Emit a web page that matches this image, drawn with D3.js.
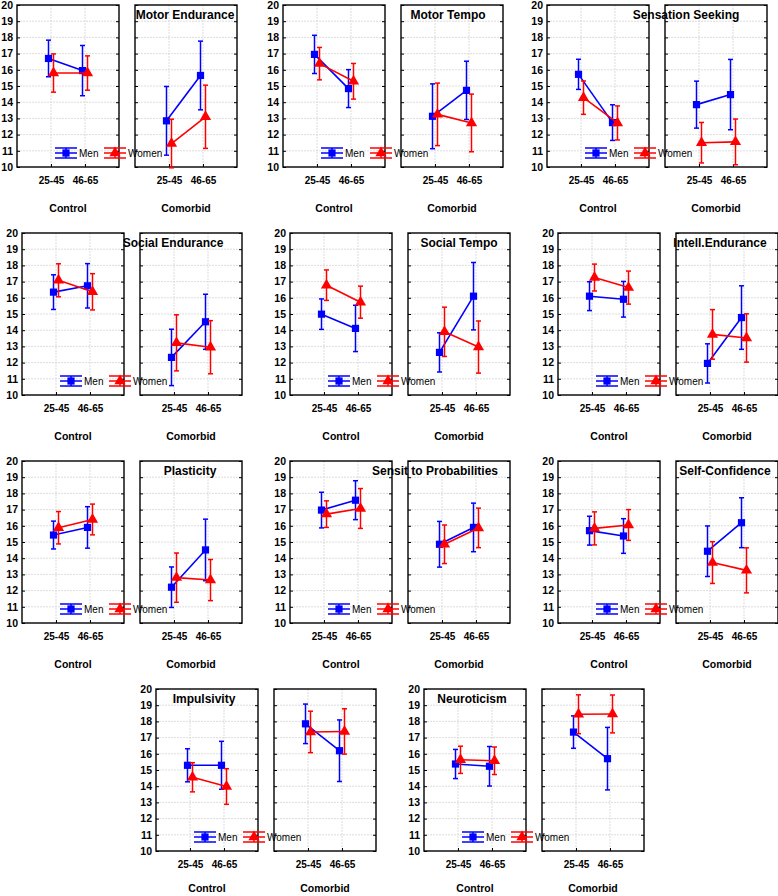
<!DOCTYPE html>
<html>
<head>
<meta charset="utf-8">
<script src="https://cdn.jsdelivr.net/npm/d3@7"></script>
<style>
  html, body { margin: 0; padding: 0; background: #fff; }
  text { font-family: "Liberation Sans", Arial, sans-serif; }
</style>
</head>
<body>
<svg id="chart" width="778" height="896"></svg>
<script>
// ---------------- DATA ----------------
const traits = ["Motor Endurance", "Motor Tempo", "Sensation Seeking", "Social Endurance",
  "Social Tempo", "Intell.Endurance", "Plasticity", "Sensit to Probabilities",
  "Self-Confidence", "Impulsivity", "Neuroticism"];
const ageGroups = ["25-45", "46-65"];
const groups = ["Control", "Comorbid"];
const sexes = ["Men", "Women"];
const yTicks = [10, 11, 12, 13, 14, 15, 16, 17, 18, 19, 20];

// means [25-45, 46-65] and error half-widths, one row per trait
const menControl = [[16.7,15.95],[16.95,14.84],[15.72,12.74],[16.35,16.74],[14.99,14.11],[16.1,15.91],[15.43,15.9],[16.97,17.58],[15.7,15.37],[15.29,15.29],[15.37,15.23]];
const menControlErr = [[1.13,1.55],[1.18,1.17],[0.93,1.1],[1.07,1.37],[0.94,1.43],[0.89,1.1],[0.86,1.28],[1.1,1.2],[0.89,1.07],[1.02,1.48],[0.9,1.22]];
const womenControl = [[15.8,15.8],[16.38,15.29],[14.28,12.72],[17.08,16.37],[16.78,15.73],[17.25,16.63],[15.88,16.39],[16.72,17.07],[15.84,16.05],[14.55,13.98],[15.63,15.57]];
const womenControlErr = [[1.18,1.06],[1.0,1.1],[1.03,1.05],[1.02,1.12],[0.94,0.99],[0.83,1.02],[1.0,0.95],[0.82,1.23],[1.02,0.95],[0.9,1.1],[0.84,0.85]];
const menComorbid = [[12.85,15.65],[13.13,14.73],[13.85,14.47],[12.32,14.52],[12.63,16.1],[11.95,14.78],[12.21,14.51],[14.86,15.9],[14.43,16.19],[17.85,16.19],[17.34,15.7]];
const menComorbidErr = [[2.12,2.12],[2.0,1.8],[1.45,2.17],[1.74,1.7],[1.21,2.08],[1.21,1.96],[1.25,1.9],[1.41,1.5],[1.56,1.54],[1.22,1.9],[1.0,1.93]];
const womenComorbid = [[11.45,13.1],[13.25,12.72],[11.5,11.55],[13.22,12.95],[13.9,12.96],[13.74,13.52],[12.8,12.65],[14.86,15.87],[13.73,13.25],[17.35,17.38],[18.44,18.46]];
const womenComorbidErr = [[1.5,1.95],[1.93,1.78],[1.25,1.41],[1.73,1.64],[1.52,1.61],[1.53,1.49],[1.52,1.27],[1.19,1.22],[1.29,1.39],[1.28,1.4],[1.2,1.17]];

// ---------------- LAYOUT (positions / styles) ----------------
const W = 778, H = 896;
const panelLeft = [17, 283, 547, 22, 290, 558, 22, 290, 558, 156, 424];
const panelTop  = [5, 5, 5, 233, 233, 233, 461, 461, 461, 689, 689];
const titleCx   = [168, 165, 139, 151, 169, 162, 168, 145, 167, 48, 48];
const boxW = 102, boxH = 162, boxGap = 118;
const colors = { Men: "#0000ff", Women: "#ff0000" };
const sexOffset = { Men: -2.5, Women: 2.5 };

const svg = d3.select("#chart");
svg.append("rect").attr("width", W).attr("height", H).attr("fill", "#fff");

const y = d3.scaleLinear().domain([10, 20]).range([boxH, 0]);
const x = d3.scalePoint().domain(ageGroups).range([0, boxW]).padding(1);

const squareSym = d3.symbol().type(d3.symbolSquare).size(52);
const triSym = d3.symbol().type(d3.symbolTriangle).size(54);

function seriesData(t, g, s) {
  if (g === "Control") return s === "Men" ? [menControl[t], menControlErr[t]] : [womenControl[t], womenControlErr[t]];
  return s === "Men" ? [menComorbid[t], menComorbidErr[t]] : [womenComorbid[t], womenComorbidErr[t]];
}

traits.forEach((trait, t) => {
  const T = panelTop[t];
  const P = svg.append("g").attr("transform", `translate(${panelLeft[t]},${T})`);

  groups.forEach((grp, gi) => {
    const B = P.append("g").attr("transform", `translate(${gi * boxGap},0)`);
    // grid
    B.selectAll("line.gy").data(yTicks.slice(1, -1)).join("line")
      .attr("x1", 0).attr("x2", boxW).attr("y1", d => y(d)).attr("y2", d => y(d))
      .attr("stroke", "#d4d4d4").attr("stroke-width", 0.8).attr("stroke-dasharray", "2,1");
    B.selectAll("line.gx").data(ageGroups).join("line")
      .attr("x1", d => x(d)).attr("x2", d => x(d)).attr("y1", 0).attr("y2", boxH)
      .attr("stroke", "#d4d4d4").attr("stroke-width", 0.8).attr("stroke-dasharray", "2,1");

    // y axis (labels only on the first box)
    const ya = d3.axisLeft(y).tickValues(yTicks).tickSize(-3).tickPadding(4);
    const yg = B.append("g").call(ya);
    yg.select(".domain").remove();
    yg.selectAll("line").attr("stroke", "#000");
    yg.selectAll("text").attr("font-size", "10.5px").attr("font-weight", "bold").attr("fill", "#000");
    if (gi === 1) yg.selectAll("text").remove();
    // right inner ticks
    const yr = B.append("g").attr("transform", `translate(${boxW},0)`)
      .call(d3.axisRight(y).tickValues(yTicks).tickSize(-3).tickFormat(""));
    yr.select(".domain").remove();
    yr.selectAll("line").attr("stroke", "#000");

    // x axis
    const xa = d3.axisBottom(x).tickSize(-3).tickPadding(10);
    const xg = B.append("g").attr("transform", `translate(0,${boxH})`).call(xa);
    xg.select(".domain").remove();
    xg.selectAll("line").attr("stroke", "#000");
    xg.selectAll("text").attr("font-size", "10px").attr("font-weight", "bold").attr("fill", "#000");

    // box
    B.append("rect").attr("x", 0).attr("y", 0).attr("width", boxW).attr("height", boxH)
      .attr("fill", "none").attr("stroke", "#000").attr("stroke-width", 1.4);

    // group label (kept inside the page)
    B.append("text").attr("x", boxW / 2).attr("y", Math.min(207, H - T - 4)).attr("text-anchor", "middle")
      .attr("font-size", "10.5px").attr("font-weight", "bold").text(grp);

    // series
    sexes.forEach(s => {
      const [means, errs] = seriesData(t, grp, s);
      const pts = ageGroups.map((a, i) => ({ a, m: means[i], e: errs[i], px: x(a) + sexOffset[s] }));
      const c = colors[s];
      B.append("path").datum(pts)
        .attr("d", d3.line().x(d => d.px).y(d => y(d.m)))
        .attr("fill", "none").attr("stroke", c).attr("stroke-width", 1.6);
      const eb = B.append("g");
      pts.forEach(d => {
        eb.append("line").attr("x1", d.px).attr("x2", d.px).attr("y1", y(d.m - d.e)).attr("y2", y(d.m + d.e))
          .attr("stroke", c).attr("stroke-width", 1.5);
        [d.m - d.e, d.m + d.e].forEach(v => {
          eb.append("line").attr("x1", d.px - 2.5).attr("x2", d.px + 2.5).attr("y1", y(v)).attr("y2", y(v))
            .attr("stroke", c).attr("stroke-width", 1.5);
        });
        eb.append("path").attr("d", s === "Men" ? squareSym() : triSym())
          .attr("transform", `translate(${d.px},${y(d.m)})`).attr("fill", c);
      });
    });
  });

  // legend
  const L = P.append("g").attr("transform", `translate(0,148)`);
  sexes.forEach((s, i) => {
    const cx = i === 0 ? 49 : 98;
    const c = colors[s];
    const lg = L.append("g").attr("transform", `translate(${cx},0)`);
    [-5, 0, 5].forEach(dy => lg.append("line").attr("x1", -11).attr("x2", 11).attr("y1", dy).attr("y2", dy)
      .attr("stroke", c).attr("stroke-width", 1.5));
    lg.append("line").attr("x1", 0).attr("x2", 0).attr("y1", -5).attr("y2", 5).attr("stroke", c).attr("stroke-width", 1.5);
    lg.append("path").attr("d", s === "Men" ? squareSym() : triSym()).attr("fill", c);
    L.append("text").attr("x", cx + 13).attr("y", 3.5).attr("font-size", "10px").text(s);
  });

  // title
  P.append("text").attr("x", titleCx[t]).attr("y", 14).attr("text-anchor", "middle")
    .attr("font-size", "12px").attr("font-weight", "bold").text(trait);
});
</script>
</body>
</html>
